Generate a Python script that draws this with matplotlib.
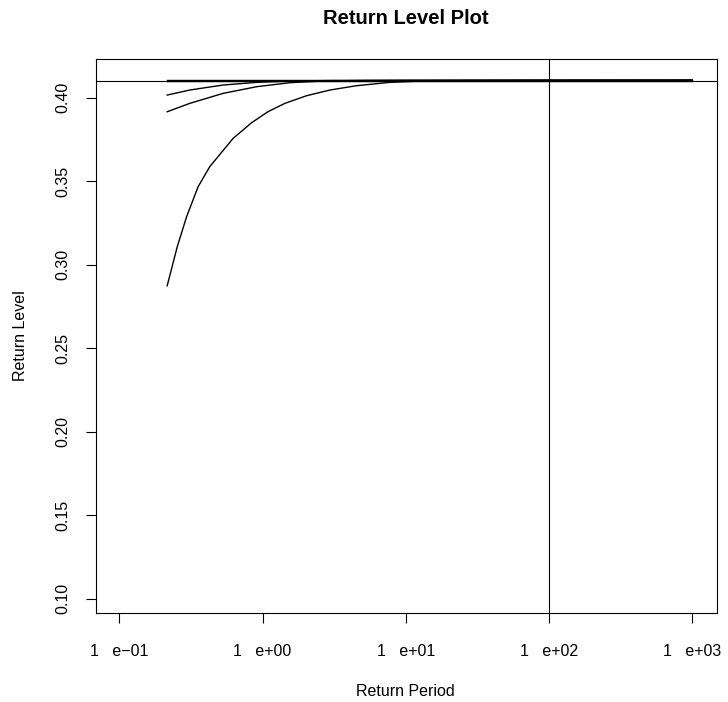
import matplotlib
matplotlib.use("Agg")
import matplotlib.pyplot as plt
import numpy as np

plt.rcParams['font.family'] = ['Liberation Sans', 'DejaVu Sans']

# return level curves
period_a = [0.216, 0.254, 0.295, 0.355, 0.428, 0.624, 0.838, 1.09, 1.43, 2.03,
            2.95, 4.53, 7.73, 13.1, 22.6, 50, 100, 1000]
level_a = [0.2874, 0.3108, 0.3287, 0.3467, 0.3587, 0.3757, 0.3850, 0.3916, 0.3966,
           0.4012, 0.4046, 0.4072, 0.4092, 0.4100, 0.4102, 0.4103, 0.4104, 0.4105]

period_b = [0.216, 0.31, 0.53, 0.91, 1.55, 2.63, 5, 10, 30, 1000]
level_b = [0.3916, 0.3966, 0.4026, 0.4066, 0.4090, 0.4100, 0.4103, 0.4104, 0.4105, 0.4105]

period_c = [0.216, 0.31, 0.53, 0.91, 1.55, 3, 10, 1000]
level_c = [0.4016, 0.4046, 0.4076, 0.4092, 0.4100, 0.4103, 0.4104, 0.4105]

period_d = [0.216, 1000]
level_d = [0.4103, 0.4103]
period_e = [0.216, 1000]
level_e = [0.4106, 0.4106]

hline_level = 0.4098
vline_period = 100

xticks = [0.1, 1, 10, 100, 1000]
xticklabels = ["1   e\u221201", "1   e+00", "1   e+01", "1   e+02", "1   e+03"]
yticks = [0.10, 0.15, 0.20, 0.25, 0.30, 0.35, 0.40]

fig = plt.figure(figsize=(7.28, 7.02), dpi=100)
ax = fig.add_axes([0.1312, 0.1264, 0.8533, 0.7891])

for p, l in [(period_a, level_a), (period_b, level_b), (period_c, level_c),
             (period_d, level_d), (period_e, level_e)]:
    ax.plot(p, l, color='black', lw=1.0)

ax.axhline(hline_level, color='black', lw=0.8)
ax.axvline(vline_period, color='black', lw=0.8)

ax.set_xscale('log')
ax.set_xlim(10 ** -1.1658, 10 ** 3.1707)
ax.set_ylim(0.0913, 0.4230)

ax.set_xticks(xticks)
ax.set_xticklabels(xticklabels)
ax.minorticks_off()
ax.set_yticks(yticks)
ax.set_yticklabels(["%.2f" % v for v in yticks], rotation=90, va='center')

ax.tick_params(axis='both', direction='out', length=7, width=0.8, labelsize=11.5, colors='black')
ax.tick_params(axis='x', pad=15)
ax.tick_params(axis='y', pad=11)
for s in ax.spines.values():
    s.set_linewidth(0.8)

fig.text(0.5575, 1 - 18 / 702, "Return Level Plot", ha='center', va='center',
         fontsize=14.5, fontweight='bold')
fig.text(0.5575, 1 - 691 / 702, "Return Period", ha='center', va='center', fontsize=11.5)
fig.text(21 / 728, 0.5214, "Return Level", ha='center', va='center', rotation=90, fontsize=11.5)

fig.savefig("out.png", dpi=100)
